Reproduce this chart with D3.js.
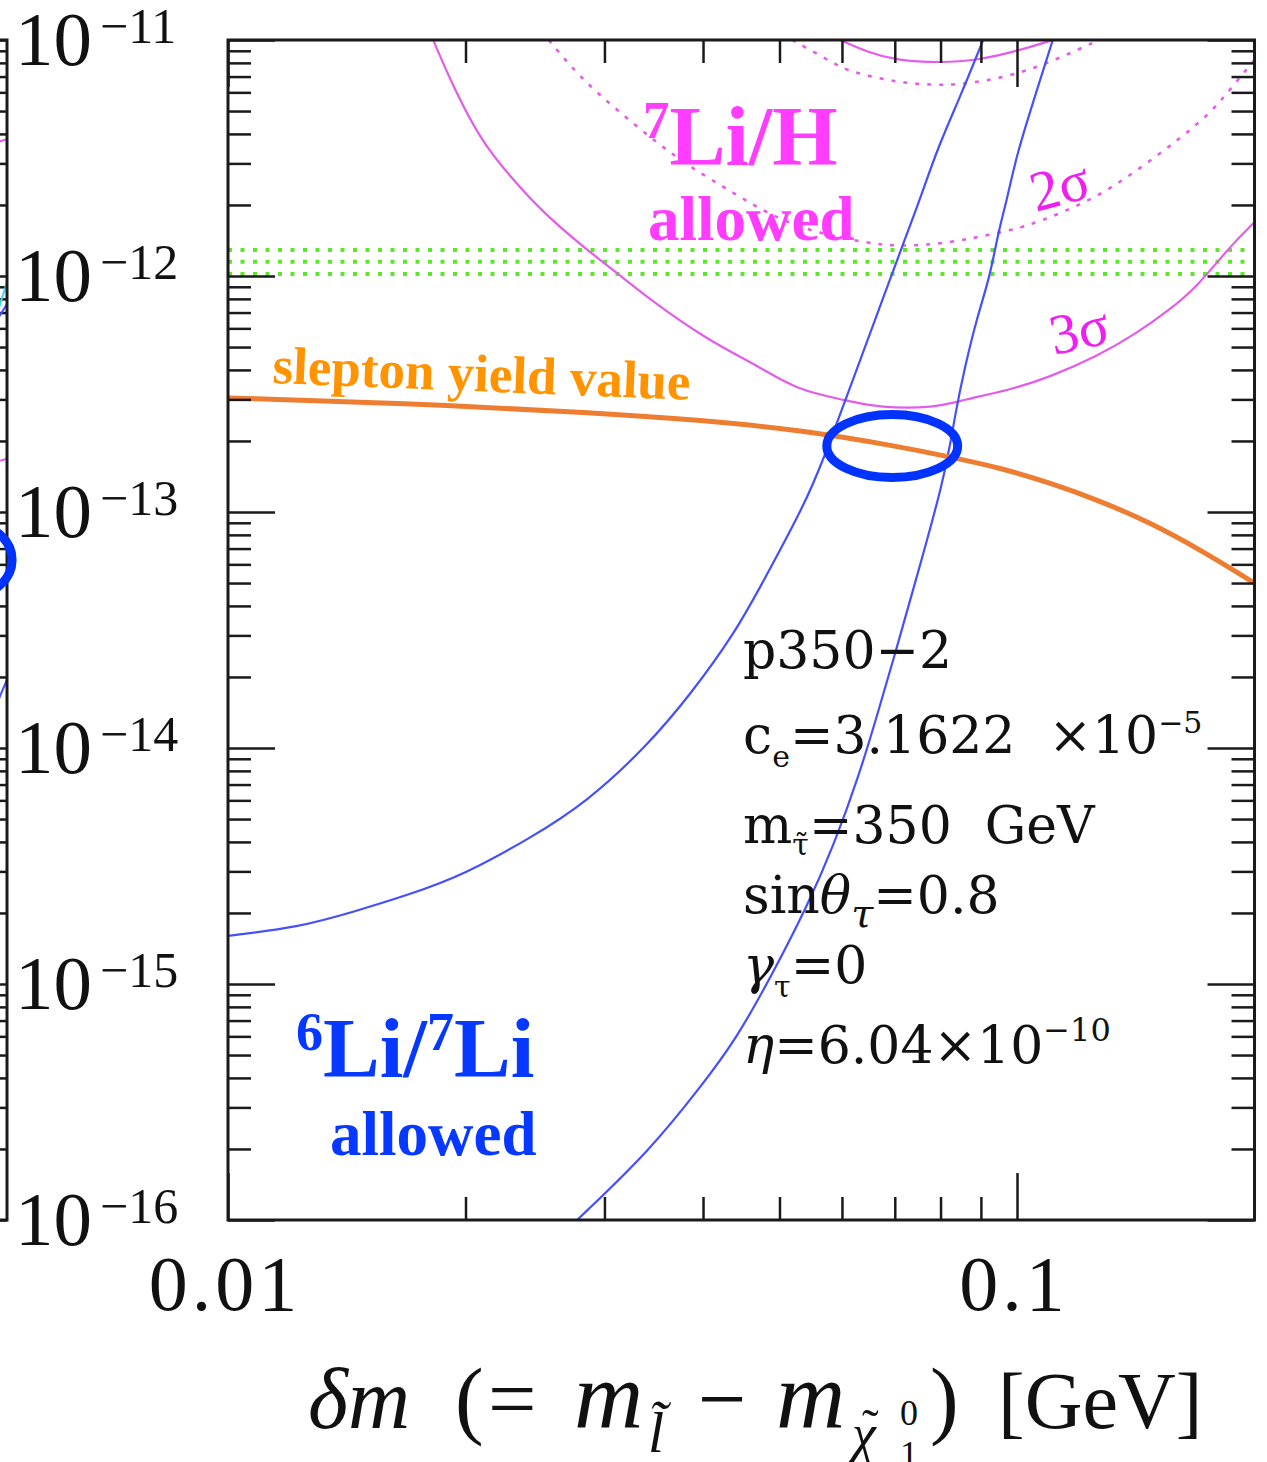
<!DOCTYPE html>
<html>
<head>
<meta charset="utf-8">
<script src="https://cdn.jsdelivr.net/npm/d3@7"></script>
<style>
  body { margin: 0; background: #fff; }
  text { white-space: pre; }
</style>
</head>
<body>
<div id="chart"></div>
<script>
// ---- data (x: delta m in GeV, y: yield) ----

// slepton yield value (orange)
var yieldDm = [0.0100, 0.0165, 0.0296, 0.0397, 0.0531, 0.0711, 0.0823, 0.0952, 0.110, 0.127, 0.147, 0.171, 0.200];
var yieldY  = [3.04e-13, 2.90e-13, 2.63e-13, 2.45e-13, 2.23e-13, 1.89e-13, 1.71e-13, 1.54e-13, 1.33e-13, 1.12e-13, 9.07e-14, 6.90e-14, 5.00e-14];

// 6Li/7Li bounds (blue)
var li6LowDm = [0.0100, 0.0123, 0.0144, 0.0169, 0.0199, 0.0243, 0.0284, 0.0339, 0.0387, 0.0439, 0.0478, 0.0539, 0.0568, 0.0618, 0.0675, 0.0715, 0.0753, 0.0794, 0.0847, 0.0906];
var li6LowY  = [1.60e-15, 1.74e-15, 2.02e-15, 2.38e-15, 2.90e-15, 4.20e-15, 5.85e-15, 1.01e-14, 1.71e-14, 3.07e-14, 5.15e-14, 1.09e-13, 1.66e-13, 3.55e-13, 7.91e-13, 1.33e-12, 2.10e-12, 3.52e-12, 5.73e-12, 1.0e-11];
var li6HighDm = [0.0277, 0.0343, 0.0397, 0.0440, 0.0489, 0.0543, 0.0586, 0.0631, 0.0665, 0.0700, 0.0732, 0.0811, 0.0835, 0.0859, 0.0890, 0.0924, 0.0946, 0.0971, 0.100, 0.106, 0.111];
var li6HighY  = [1.0e-16, 1.98e-16, 3.66e-16, 5.79e-16, 1.09e-15, 2.16e-15, 3.88e-15, 7.69e-15, 1.38e-14, 2.48e-14, 4.24e-14, 1.41e-13, 2.63e-13, 4.12e-13, 6.70e-13, 9.90e-13, 1.52e-12, 2.10e-12, 3.32e-12, 6.14e-12, 1.0e-11];

// 7Li/H 3 sigma (solid magenta)
var sig3LowDm = [0.0182, 0.0193, 0.0209, 0.0228, 0.0251, 0.0285, 0.0308, 0.0343, 0.0405, 0.0472, 0.0526, 0.0604, 0.0670, 0.0787, 0.0852, 0.098, 0.110, 0.126, 0.142, 0.156, 0.169, 0.186, 0.200];
var sig3LowY  = [1.0e-11, 6.32e-12, 3.77e-12, 2.63e-12, 1.85e-12, 1.29e-12, 1.06e-12, 7.91e-13, 5.36e-13, 4.12e-13, 3.29e-13, 2.98e-13, 2.76e-13, 2.76e-13, 2.98e-13, 3.29e-13, 3.73e-13, 4.54e-13, 5.73e-13, 7.18e-13, 8.98e-13, 1.33e-12, 1.69e-12];
var sig3UpDm = [0.0597, 0.0651, 0.0700, 0.0799, 0.0898, 0.100, 0.111];
var sig3UpY  = [1.0e-11, 8.81e-12, 8.23e-12, 7.99e-12, 8.23e-12, 8.98e-12, 1.0e-11];

// 7Li/H 2 sigma (dotted magenta)
var sig2LowDm = [0.0255, 0.0279, 0.0311, 0.0350, 0.0385, 0.0437, 0.0491, 0.0558, 0.0646, 0.0711, 0.0823, 0.0943, 0.102, 0.114, 0.129, 0.144, 0.160, 0.176, 0.186, 0.200];
var sig2LowY  = [1.0e-11, 6.97e-12, 5.05e-12, 3.66e-12, 2.90e-12, 2.25e-12, 1.78e-12, 1.52e-12, 1.38e-12, 1.33e-12, 1.38e-12, 1.52e-12, 1.61e-12, 1.85e-12, 2.25e-12, 2.90e-12, 3.77e-12, 4.91e-12, 6.14e-12, 8.23e-12];
var sig2UpDm = [0.0519, 0.0585, 0.0614, 0.0711, 0.0787, 0.0840, 0.098, 0.112, 0.127];
var sig2UpY  = [1.0e-11, 7.99e-12, 7.32e-12, 6.57e-12, 6.45e-12, 6.45e-12, 6.97e-12, 8.23e-12, 1.0e-11];

// green dotted band
var bandLevels = [1.29e-12, 1.15e-12, 1.02e-12];

// highlighted region (blue ellipse), extent in data
var ellipseDm = [0.0574, 0.0841];
var ellipseY  = [1.40e-13, 2.59e-13];

// neighbouring panel: only its right edge shows
var leftEllipseDm = [0.161, 0.203];
var leftEllipseY  = [4.45e-14, 8.81e-14];
var leftPieces = [
  { color: "#e35de8", dm: [0.19, 0.2], y: [3.6e-12, 3.8e-12] },
  { color: "#e35de8", dm: [0.19, 0.2], y: [1.60e-13, 1.68e-13] },
  { color: "#3fd6e8", dm: [0.19, 0.2], y: [5.5e-13, 9.4e-13] },
  { color: "#4650fa", dm: [0.19, 0.2], y: [5.8e-13, 7.6e-13] },
  { color: "#4650fa", dm: [0.19, 0.2], y: [1.3e-14, 1.95e-14] }
];

// ticks
var yExponents = [-16, -15, -14, -13, -12, -11];
var xMajor = [0.01, 0.1];
var xLabels = ["0.01", "0.1"];
var xMinor = [0.02, 0.03, 0.04, 0.05, 0.06, 0.07, 0.08, 0.09];

// ---- layout ----
var svgWidth = 1267, svgHeight = 1462;
var margin = { top: 40, left: 228 };
var width = 789 * Math.log10(20);
var height = 1180;

var svg = d3.select("#chart").append("svg")
  .attr("width", svgWidth)
  .attr("height", svgHeight)
  .style("background", "#fff");

var x = d3.scaleLog().domain([0.01, 0.2]).range([0, width]);
var y = d3.scaleLog().domain([1e-16, 1e-11]).range([height, 0]);

var yMajor = yExponents.map(function(e) { return Math.pow(10, e); });
var yMinor = [];
yExponents.slice(0, -1).forEach(function(e) {
  for (var k = 2; k <= 9; k++) yMinor.push(k * Math.pow(10, e));
});

function styleAxis(g) {
  g.select(".domain").remove();
  g.selectAll("line").attr("stroke", "#1a1a1a").attr("stroke-width", 2.5);
  g.selectAll("text").remove();
}

// ---- neighbouring panel fragment (left edge) ----
var leftX = d3.scaleLog().domain([0.01, 0.2]).range([7 - width, 7]);
var left = svg.append("g").attr("transform", "translate(0," + margin.top + ")");

left.append("g").attr("transform", "translate(7,0)")
  .call(d3.axisRight(y).tickValues(yMinor).tickSize(-23)).call(styleAxis);
left.append("g").attr("transform", "translate(7,0)")
  .call(d3.axisRight(y).tickValues(yMajor).tickSize(-47)).call(styleAxis);

leftPieces.forEach(function(p) {
  left.append("path")
    .datum(d3.zip(p.dm, p.y))
    .attr("fill", "none")
    .attr("stroke", p.color)
    .attr("stroke-width", 2)
    .attr("d", d3.line().x(function(d) { return leftX(d[0]); }).y(function(d) { return y(d[1]); }));
});
left.append("rect")
  .attr("x", 7 - width).attr("y", 0)
  .attr("width", width).attr("height", height)
  .attr("fill", "none").attr("stroke", "#1a1a1a").attr("stroke-width", 3);
left.append("ellipse")
  .attr("cx", (leftX(leftEllipseDm[0]) + leftX(leftEllipseDm[1])) / 2)
  .attr("cy", (y(leftEllipseY[0]) + y(leftEllipseY[1])) / 2)
  .attr("rx", (leftX(leftEllipseDm[1]) - leftX(leftEllipseDm[0])) / 2)
  .attr("ry", (y(leftEllipseY[0]) - y(leftEllipseY[1])) / 2)
  .attr("fill", "none").attr("stroke", "#0033ff").attr("stroke-width", 9);

// ---- main panel ----
var chartGroup = svg.append("g")
  .attr("transform", "translate(" + margin.left + "," + margin.top + ")");

chartGroup.append("clipPath").attr("id", "plotClip")
  .append("rect").attr("width", width).attr("height", height);

var plot = chartGroup.append("g").attr("clip-path", "url(#plotClip)");

var line = d3.line()
  .x(function(d) { return x(d[0]); })
  .y(function(d) { return y(d[1]); })
  .curve(d3.curveBasis);

// green band (dotted rows)
plot.selectAll(".band")
  .data(bandLevels)
  .join("line")
  .attr("class", "band")
  .attr("x1", 0).attr("x2", width)
  .attr("y1", function(d) { return y(d); })
  .attr("y2", function(d) { return y(d); })
  .attr("stroke", "#5fe52a")
  .attr("stroke-width", 4)
  .attr("stroke-dasharray", "4,8.5");

// magenta 7Li/H contours
[[sig3LowDm, sig3LowY], [sig3UpDm, sig3UpY]].forEach(function(s) {
  plot.append("path").datum(d3.zip(s[0], s[1]))
    .attr("fill", "none").attr("stroke", "#e35de8").attr("stroke-width", 2.2)
    .attr("d", line);
});
[[sig2LowDm, sig2LowY], [sig2UpDm, sig2UpY]].forEach(function(s) {
  plot.append("path").datum(d3.zip(s[0], s[1]))
    .attr("fill", "none").attr("stroke", "#e35de8").attr("stroke-width", 2.6)
    .attr("stroke-dasharray", "4,8")
    .attr("d", line);
});

// blue 6Li/7Li bounds
[[li6LowDm, li6LowY], [li6HighDm, li6HighY]].forEach(function(s) {
  plot.append("path").datum(d3.zip(s[0], s[1]))
    .attr("fill", "none").attr("stroke", "#4650fa").attr("stroke-width", 2.2)
    .attr("d", line);
});

// slepton yield
plot.append("path").datum(d3.zip(yieldDm, yieldY))
  .attr("fill", "none").attr("stroke", "#ed7d31").attr("stroke-width", 5)
  .attr("d", line);

// axes: ticks on all four sides, pointing inwards
chartGroup.append("g").call(d3.axisLeft(y).tickValues(yMinor).tickSize(-23)).call(styleAxis);
chartGroup.append("g").call(d3.axisLeft(y).tickValues(yMajor).tickSize(-47)).call(styleAxis);
chartGroup.append("g").attr("transform", "translate(" + width + ",0)")
  .call(d3.axisRight(y).tickValues(yMinor).tickSize(-23)).call(styleAxis);
chartGroup.append("g").attr("transform", "translate(" + width + ",0)")
  .call(d3.axisRight(y).tickValues(yMajor).tickSize(-47)).call(styleAxis);
chartGroup.append("g").attr("transform", "translate(0," + height + ")")
  .call(d3.axisBottom(x).tickValues(xMinor).tickSize(-23)).call(styleAxis);
chartGroup.append("g").attr("transform", "translate(0," + height + ")")
  .call(d3.axisBottom(x).tickValues(xMajor).tickSize(-47)).call(styleAxis);
chartGroup.append("g")
  .call(d3.axisTop(x).tickValues(xMinor).tickSize(-23)).call(styleAxis);
chartGroup.append("g")
  .call(d3.axisTop(x).tickValues(xMajor).tickSize(-47)).call(styleAxis);

chartGroup.append("rect")
  .attr("width", width).attr("height", height)
  .attr("fill", "none").attr("stroke", "#1a1a1a").attr("stroke-width", 3);

// highlighted ellipse
chartGroup.append("ellipse")
  .attr("cx", (x(ellipseDm[0]) + x(ellipseDm[1])) / 2)
  .attr("cy", (y(ellipseY[0]) + y(ellipseY[1])) / 2)
  .attr("rx", (x(ellipseDm[1]) - x(ellipseDm[0])) / 2)
  .attr("ry", (y(ellipseY[0]) - y(ellipseY[1])) / 2)
  .attr("fill", "none").attr("stroke", "#0033ff").attr("stroke-width", 9);

// ---- tick labels ----
var yLab = svg.selectAll(".ylab")
  .data(yExponents)
  .join("text")
  .attr("class", "ylab")
  .attr("x", 15)
  .attr("y", function(d) { return margin.top + y(Math.pow(10, d)) + 25; })
  .attr("font-family", "Liberation Serif")
  .attr("fill", "#111");
yLab.append("tspan").attr("font-size", 77).text("10");
yLab.append("tspan").attr("font-size", 50).attr("dx", 8).attr("dy", -22)
  .text(function(d) { return "\u2212" + Math.abs(d); });

svg.selectAll(".xlab")
  .data(xMajor)
  .join("text")
  .attr("class", "xlab")
  .attr("x", function(d) { return margin.left + x(d) - 3; })
  .attr("y", 1310)
  .attr("text-anchor", "middle")
  .attr("font-family", "Liberation Serif")
  .attr("font-size", 78)
  .attr("letter-spacing", 4)
  .attr("fill", "#111")
  .text(function(d, i) { return xLabels[i]; });

// ---- axis title ----
var title = svg.append("g").attr("font-family", "Liberation Serif").attr("fill", "#111");
function tt(txt, px, py, size, italic) {
  title.append("text").attr("x", px).attr("y", py).attr("font-size", size)
    .attr("font-style", italic ? "italic" : "normal").text(txt);
}
tt("\u03b4m", 308, 1428, 86, true);
tt("(", 455, 1428, 86, false);
tt("=", 488, 1428, 86, false);
tt("m", 574, 1428, 96, true);
tt("l\u0303", 648, 1452, 58, true);
tt("\u2212", 698, 1428, 86, false);
tt("m", 776, 1428, 96, true);
tt("\u03c7", 852, 1452, 54, true);
tt("\u02dc", 862, 1444, 50, false);
tt("0", 900, 1425, 36, false);
tt("1", 900, 1466, 36, false);
tt(")", 930, 1428, 86, false);
tt("[GeV]", 998, 1428, 80, false);

// ---- annotations ----
var li7 = svg.append("text").attr("x", 643).attr("y", 165)
  .attr("font-family", "Liberation Serif").attr("font-weight", "bold").attr("fill", "#ff3cff");
li7.append("tspan").attr("font-size", 53).attr("dy", -27).text("7");
li7.append("tspan").attr("font-size", 84).attr("dy", 27).text("Li/H");
svg.append("text").attr("x", 648).attr("y", 240)
  .attr("font-family", "Liberation Serif").attr("font-weight", "bold")
  .attr("font-size", 63).attr("fill", "#ff3cff").text("allowed");

var li6 = svg.append("text").attr("x", 296).attr("y", 1077)
  .attr("font-family", "Liberation Serif").attr("font-weight", "bold").attr("fill", "#0638ff");
li6.append("tspan").attr("font-size", 54).attr("dy", -27).text("6");
li6.append("tspan").attr("font-size", 85).attr("dy", 27).text("Li/");
li6.append("tspan").attr("font-size", 54).attr("dy", -27).text("7");
li6.append("tspan").attr("font-size", 85).attr("dy", 27).text("Li");
svg.append("text").attr("x", 330).attr("y", 1155)
  .attr("font-family", "Liberation Serif").attr("font-weight", "bold")
  .attr("font-size", 63).attr("fill", "#0638ff").text("allowed");

svg.append("text").attr("x", 272).attr("y", 383)
  .attr("transform", "rotate(2.3,272,383)")
  .attr("font-family", "Liberation Serif").attr("font-weight", "bold")
  .attr("font-size", 53).attr("fill", "#ff9300").text("slepton yield value");

svg.append("text").attr("x", 1036).attr("y", 212)
  .attr("transform", "rotate(-15,1036,212)")
  .attr("font-family", "Liberation Serif").attr("font-size", 57)
  .attr("fill", "#f01ef0").text("2\u03c3");
svg.append("text").attr("x", 1054).attr("y", 355)
  .attr("transform", "rotate(-12,1054,355)")
  .attr("font-family", "Liberation Serif").attr("font-size", 57)
  .attr("fill", "#f01ef0").text("3\u03c3");

// ---- parameter block ----
var pf = "DejaVu Serif", ps = 52, sub = 30;
var params = svg.append("g").attr("font-family", pf).attr("fill", "#111");

params.append("text").attr("x", 743).attr("y", 668).attr("font-size", ps).text("p350\u22122");

var t2 = params.append("text").attr("x", 743).attr("y", 753).attr("font-size", ps);
t2.append("tspan").text("c");
t2.append("tspan").attr("font-size", sub).attr("dy", 14).text("e");
t2.append("tspan").attr("dy", -14).text("=3.1622\u00a0\u00a0\u00d710");
t2.append("tspan").attr("font-size", sub).attr("dy", -20).text("\u22125");

var t3 = params.append("text").attr("x", 743).attr("y", 843).attr("font-size", ps);
t3.append("tspan").text("m");
t3.append("tspan").attr("font-size", sub).attr("dy", 12).text("\u03c4\u0303");
t3.append("tspan").attr("dy", -12).text("=350\u00a0\u00a0GeV");

var t4 = params.append("text").attr("x", 743).attr("y", 913).attr("font-size", ps);
t4.append("tspan").text("sin");
t4.append("tspan").attr("font-style", "italic").text("\u03b8");
t4.append("tspan").attr("font-style", "italic").attr("font-size", 40).attr("dy", 14).text("\u03c4");
t4.append("tspan").attr("dy", -14).text("=0.8");

var t5 = params.append("text").attr("x", 743).attr("y", 983).attr("font-size", ps);
t5.append("tspan").attr("font-style", "italic").text("\u03b3");
t5.append("tspan").attr("font-size", sub).attr("dy", 14).text("\u03c4");
t5.append("tspan").attr("dy", -14).text("=0");

var t6 = params.append("text").attr("x", 743).attr("y", 1063).attr("font-size", ps);
t6.append("tspan").attr("font-style", "italic").text("\u03b7");
t6.append("tspan").text("=6.04\u00d710");
t6.append("tspan").attr("font-size", 32).attr("dy", -22).text("\u221210");
</script>
</body>
</html>
